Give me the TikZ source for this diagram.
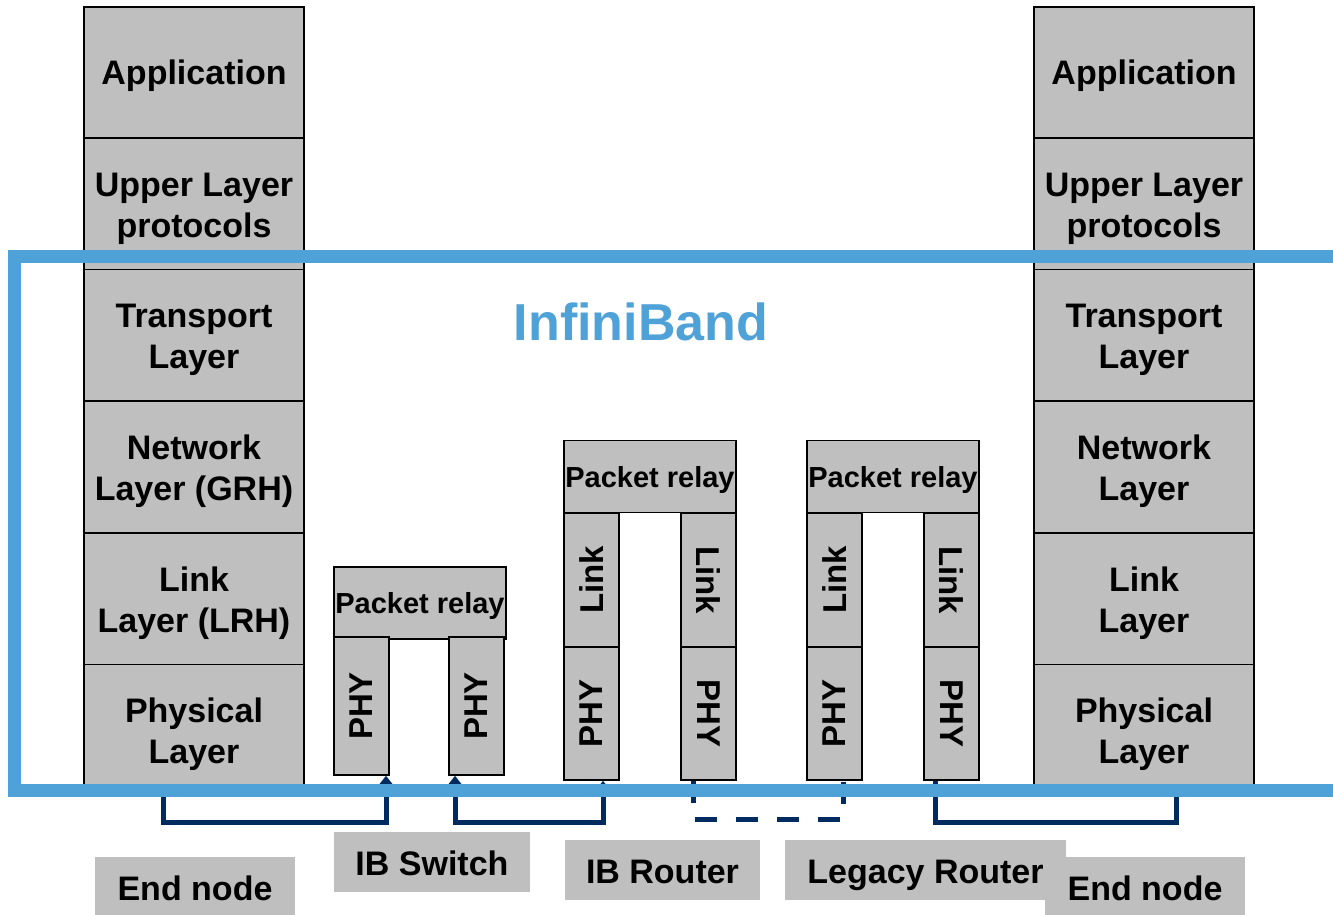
\documentclass[tikz,border=0pt]{standalone}
\usepackage{fontspec}
\usepackage{graphicx}
\setmainfont{Liberation Sans}
\usetikzlibrary{arrows.meta}
\definecolor{boxgray}{HTML}{BFBFBF}
\definecolor{ibblue}{HTML}{4FA2D7}
\definecolor{navy}{HTML}{002B60}
\newcommand{\stackfont}{\fontsize{34}{41}\selectfont\bfseries}
\newcommand{\relayfont}{\fontsize{29}{34}\selectfont\bfseries}
\newcommand{\slimfont}{\fontsize{33}{38}\selectfont\bfseries}
% strut that lowers a two-line label a little inside its box
\newcommand{\topstrut}{\rule{0pt}{34pt}}
\tikzset{
  layerbox/.style={draw=black, line width=1.5pt, fill=boxgray, inner sep=0pt,
    align=center, font=\stackfont, minimum width=220pt, minimum height=131.5pt},
  relaybox/.style={draw=black, line width=1.5pt, fill=boxgray, inner sep=0pt,
    font=\relayfont, minimum width=172pt, minimum height=72pt,
    execute at begin node={\rule{0pt}{27.5pt}}},
  slimbox/.style={draw=black, line width=1.5pt, fill=boxgray, inner sep=0pt,
    font=\slimfont, minimum width=55pt},
  tagbox/.style={fill=boxgray, inner sep=0pt, font=\stackfont,
    minimum height=60pt, text height=31pt, text depth=5pt},
  conn/.style={draw=navy, line width=5pt},
  tip/.style={-{Triangle[length=10pt,width=15pt]}},
  bothtips/.style={{Triangle[length=10pt,width=15pt]}-{Triangle[length=10pt,width=15pt]}},
}
\begin{document}
\begin{tikzpicture}[x=1pt,y=-1pt]
\useasboundingbox (0,0) rectangle (1333,914);

% ---- end node protocol stacks ----
\foreach \side/\cx in {l/194, r/1144}{
  \node[layerbox] (\side app) at (\cx,72.5)  {\rule{0pt}{31pt}Application};
  \node[layerbox] (\side ulp) at (\cx,203.5) {\topstrut Upper Layer\\protocols};
  \node[layerbox] (\side tra) at (\cx,335)   {\topstrut Transport\\Layer};
}
\node[layerbox] (lnet) at (194,467)   {\topstrut Network\\Layer (GRH)};
\node[layerbox] (llnk) at (194,598.5) {\topstrut Link\\Layer (LRH)};
\node[layerbox] (lphy) at (194,730)   {\topstrut Physical\\Layer};
\node[layerbox] (rnet) at (1144,467)   {\topstrut Network\\Layer};
\node[layerbox] (rlnk) at (1144,598.5) {\topstrut Link\\Layer};
\node[layerbox] (rphy) at (1144,730)   {\topstrut Physical\\Layer};

% ---- IB switch ----
\node[relaybox] (swrelay) at (420,603) {Packet relay};
\node[slimbox, minimum height=138pt] (swA) at (361.5,706) {\rotatebox{90}{PHY}};
\node[slimbox, minimum height=138pt] (swB) at (476.5,706) {\rotatebox{90}{PHY}};

% ---- IB router ----
\node[relaybox] (rtrelay) at (650,476.5) {Packet relay};
\node[slimbox, minimum height=134pt] (rtLinkA) at (591.5,580) {\rotatebox{90}{Link}};
\node[slimbox, minimum height=133pt] (rtPhyA)  at (591.5,713.5) {\rotatebox{90}{PHY}};
\node[slimbox, minimum height=134pt] (rtLinkB) at (708.5,580) {\rotatebox{-90}{Link}};
\node[slimbox, minimum height=133pt] (rtPhyB)  at (708.5,713.5) {\rotatebox{-90}{PHY}};

% ---- legacy router ----
\node[relaybox] (lgrelay) at (893,476.5) {Packet relay};
\node[slimbox, minimum height=134pt] (lgLinkA) at (834.5,580) {\rotatebox{90}{Link}};
\node[slimbox, minimum height=133pt] (lgPhyA)  at (834.5,713.5) {\rotatebox{90}{PHY}};
\node[slimbox, minimum height=134pt] (lgLinkB) at (951.5,580) {\rotatebox{-90}{Link}};
\node[slimbox, minimum height=133pt] (lgPhyB)  at (951.5,713.5) {\rotatebox{-90}{PHY}};

% ---- physical links ----
\draw[conn, tip] ([xshift=-31pt]lphy.south) -- ++(0,26) -| ([xshift=24.5pt]swA.south);
\draw[conn, bothtips] ([xshift=-21.5pt]swB.south) -- ++(0,47) -| ([xshift=11.5pt]rtPhyA.south);
\draw[conn, dash pattern=on 22pt off 19pt] ([xshift=-15.5pt]rtPhyB.south) -- ++(0,39) -| ([xshift=8.5pt]lgPhyA.south);
\draw[conn] ([xshift=-16.5pt]lgPhyB.south) -- ++(0,42) -| ([xshift=32pt]rphy.south);

% ---- InfiniBand scope ----
\draw[ibblue, line width=13pt] (14.5,256.5) rectangle (1360,790.5);
\node[text=ibblue, font=\fontsize{52}{60}\selectfont\bfseries] (ibtitle) at (641,322) {InfiniBand};

% ---- device captions ----
\node[tagbox, minimum width=200pt] (capEndL) at (195,887) {End node};
\node[tagbox, minimum width=196pt] (capSw)   at (432,862) {IB Switch};
\node[tagbox, minimum width=195pt] (capRt)   at (662.5,870) {IB Router};
\node[tagbox, minimum width=281pt] (capLg)   at (925.5,870) {Legacy Router};
\node[tagbox, minimum width=200pt] (capEndR) at (1145,887) {End node};
\end{tikzpicture}
\end{document}
